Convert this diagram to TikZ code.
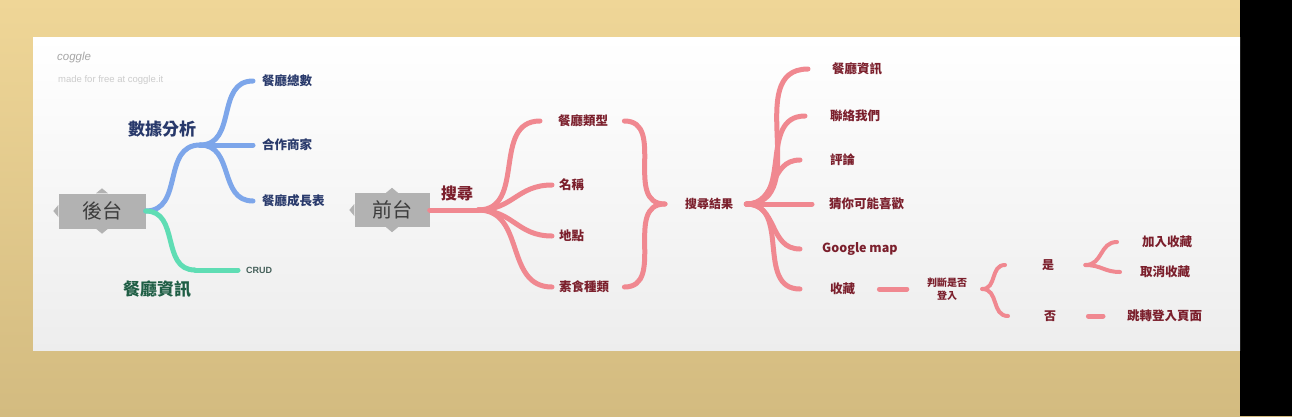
\documentclass[tikz,border=0pt]{standalone}
\usepackage{fontspec}
\setmainfont{Noto Sans CJK TC}
\newfontfamily\latinsans{Liberation Sans}
\definecolor{tanT}{HTML}{EFD697}
\definecolor{tanB}{HTML}{D3BB80}
\definecolor{redbr}{HTML}{F08890}
\definecolor{redtx}{HTML}{7B1F2C}
\definecolor{bluebr}{HTML}{7DA6EA}
\definecolor{bluetx}{HTML}{28396B}
\definecolor{greenbr}{HTML}{5FDDB4}
\definecolor{greentx}{HTML}{1F5E45}
\definecolor{crudtx}{HTML}{45605A}
\definecolor{boxgray}{HTML}{B2B2B2}
\definecolor{boxtx}{HTML}{3C3C3C}
\begin{document}
\begin{tikzpicture}[x=1pt,y=-1pt,
  branch/.style={line width=5pt,line cap=round},
  rb/.style={branch,draw=redbr},
  bb/.style={branch,draw=bluebr},
  gb/.style={branch,draw=greenbr},
  conn/.style={out=0,in=180,looseness=1.15},
  boxn/.style={fill=boxgray,text=boxtx,inner sep=0pt,font=\fontsize{20}{22}\selectfont},
  item/.style={anchor=west,inner sep=0pt,font=\bfseries\fontsize{12.5}{14}\selectfont},
  ritem/.style={item,text=redtx},
  bitem/.style={item,text=bluetx},
]
\useasboundingbox (0,0) rectangle (1292,416);
\shade[top color=tanT,bottom color=tanB] (0,0) rectangle (1292,416);
\fill[black] (1240,0) rectangle (1292,416);
\shade[top color=white,middle color=white,bottom color=black!7] (33,37) rectangle (1240,350);

% watermark
\node[anchor=west,inner sep=0pt,text=black!35,font=\latinsans\itshape\fontsize{11.5}{12}\selectfont] (cg) at (57,58) {coggle};
\node[anchor=west,inner sep=0pt,text=black!20,font=\latinsans\fontsize{9.5}{11}\selectfont] (mf) at (58,80) {made for free at coggle.it};

% ---------- 後台 ----------
\node[boxn,minimum width=87pt,minimum height=35pt] (hou) at (102,211) {後台};
\fill[boxgray] ([xshift=-5pt]hou.west) -- ([yshift=6pt]hou.west) -- ([yshift=-6pt]hou.west) -- cycle;
\fill[boxgray] ([yshift=5pt]hou.north) -- ([xshift=-6pt]hou.north) -- ([xshift=6pt]hou.north) -- cycle;
\fill[boxgray] ([yshift=-5pt]hou.south) -- ([xshift=-6pt]hou.south) -- ([xshift=6pt]hou.south) -- cycle;

\coordinate (jb) at (200,145);
\draw[bb] (hou.east) to[conn] (jb);
\node[inner sep=0pt,text=bluetx,font=\bfseries\fontsize{17}{19}\selectfont] (sj) at (162,129) {數據分析};
\node[bitem] (b1) at (262,81) {餐廳總數};
\node[bitem] (b2) at (262,145) {合作商家};
\node[bitem] (b3) at (262,201) {餐廳成長表};
\draw[bb] (jb) to[conn] ([xshift=-9pt]b1.west);
\draw[bb] (jb) to[conn] ([xshift=-9pt]b2.west);
\draw[bb] (jb) to[conn] ([xshift=-9pt]b3.west);

\coordinate (jg) at (195,270);
\draw[gb] (hou.east) to[conn] (jg);
\node[anchor=west,inner sep=0pt,text=crudtx,font=\latinsans\bfseries\fontsize{9}{10}\selectfont] (crud) at (246,270) {CRUD};
\draw[gb] (jg) -- ([xshift=-8pt]crud.west);
\node[inner sep=0pt,text=greentx,font=\bfseries\fontsize{17}{19}\selectfont] (gl) at (157,289) {餐廳資訊};

% ---------- 前台 ----------
\node[boxn,minimum width=75pt,minimum height=34pt] (qian) at (392,210) {前台};
\fill[boxgray] ([xshift=-5pt]qian.west) -- ([yshift=6pt]qian.west) -- ([yshift=-6pt]qian.west) -- cycle;
\fill[boxgray] ([yshift=5pt]qian.north) -- ([xshift=-6pt]qian.north) -- ([xshift=6pt]qian.north) -- cycle;
\fill[boxgray] ([yshift=-5pt]qian.south) -- ([xshift=-6pt]qian.south) -- ([xshift=6pt]qian.south) -- cycle;

\coordinate (js) at (478,210);
\draw[rb] (qian.east) -- (js);
\node[inner sep=0pt,text=redtx,font=\bfseries\fontsize{16}{18}\selectfont] (ss) at (457,193) {搜尋};
\node[ritem] (r1) at (558,121) {餐廳類型};
\node[ritem] (r2) at (559,185) {名稱};
\node[ritem] (r3) at (559,236) {地點};
\node[ritem] (r4) at (559,287) {素食種類};
\draw[rb] (js) to[conn] ([xshift=-18pt]r1.west);
\draw[rb] (js) to[conn] ([xshift=-7pt]r2.west);
\draw[rb] (js) to[conn] ([xshift=-7pt]r3.west);
\draw[rb] (js) to[conn] ([xshift=-7pt]r4.west);

\node[ritem,font=\bfseries\fontsize{12}{14}\selectfont] (res) at (685,204) {搜尋結果};
\coordinate (tip1) at ([xshift=-20pt]res.west);
\draw[rb] ([xshift=16pt]r1.east) to[conn] (tip1);
\draw[rb] ([xshift=15pt]r4.east) to[conn] (tip1);

\coordinate (tip2) at ([xshift=13pt]res.east);
\node[ritem] (s1) at (832,69) {餐廳資訊};
\node[ritem] (s2) at (830,116) {聯絡我們};
\node[ritem] (s3) at (830,160) {評論};
\node[ritem] (s4) at (829,204) {猜你可能喜歡};
\node[ritem,font=\bfseries\fontsize{12.5}{14}\selectfont] (s5) at (822,249) {Google map};
\node[ritem] (s6) at (830,289) {收藏};
\draw[rb] (tip2) to[conn] ([xshift=-24pt]s1.west);
\draw[rb] (tip2) to[conn] ([xshift=-25pt]s2.west);
\draw[rb] (tip2) to[conn] ([xshift=-30pt]s3.west);
\draw[rb] (tip2) -- ([xshift=-17pt]s4.west);
\draw[rb] (tip2) to[conn] ([xshift=-22pt]s5.west);
\draw[rb] (tip2) to[conn] ([xshift=-30pt]s6.west);

\node[inner sep=0pt,align=center,text=redtx,font=\bfseries\fontsize{10}{13}\selectfont] (login) at (947,289) {判斷是否\\登入};
\draw[rb] ([xshift=24pt]s6.east) -- ([xshift=-20pt]login.west);

\node[ritem,font=\bfseries\fontsize{12}{14}\selectfont] (yes) at (1042,265) {是};
\node[ritem,font=\bfseries\fontsize{12}{14}\selectfont] (no) at (1044,316) {否};
\coordinate (tip3) at ([xshift=15pt]login.east);
\draw[rb,line width=4pt] (tip3) to[conn] ([xshift=-37pt]yes.west);
\draw[rb,line width=4pt] (tip3) to[conn] ([xshift=-36pt]no.west);

\node[ritem] (add) at (1142,242) {加入收藏};
\node[ritem] (cancel) at (1140,272) {取消收藏};
\node[ritem] (jump) at (1127,316) {跳轉登入頁面};
\coordinate (tip4) at ([xshift=31pt]yes.east);
\draw[rb,line width=4pt] (tip4) to[conn] ([xshift=-25pt]add.west);
\draw[rb,line width=4pt] (tip4) to[conn] ([xshift=-20pt]cancel.west);
\draw[rb] ([xshift=32pt]no.east) -- ([xshift=-24pt]jump.west);
\end{tikzpicture}
\end{document}
